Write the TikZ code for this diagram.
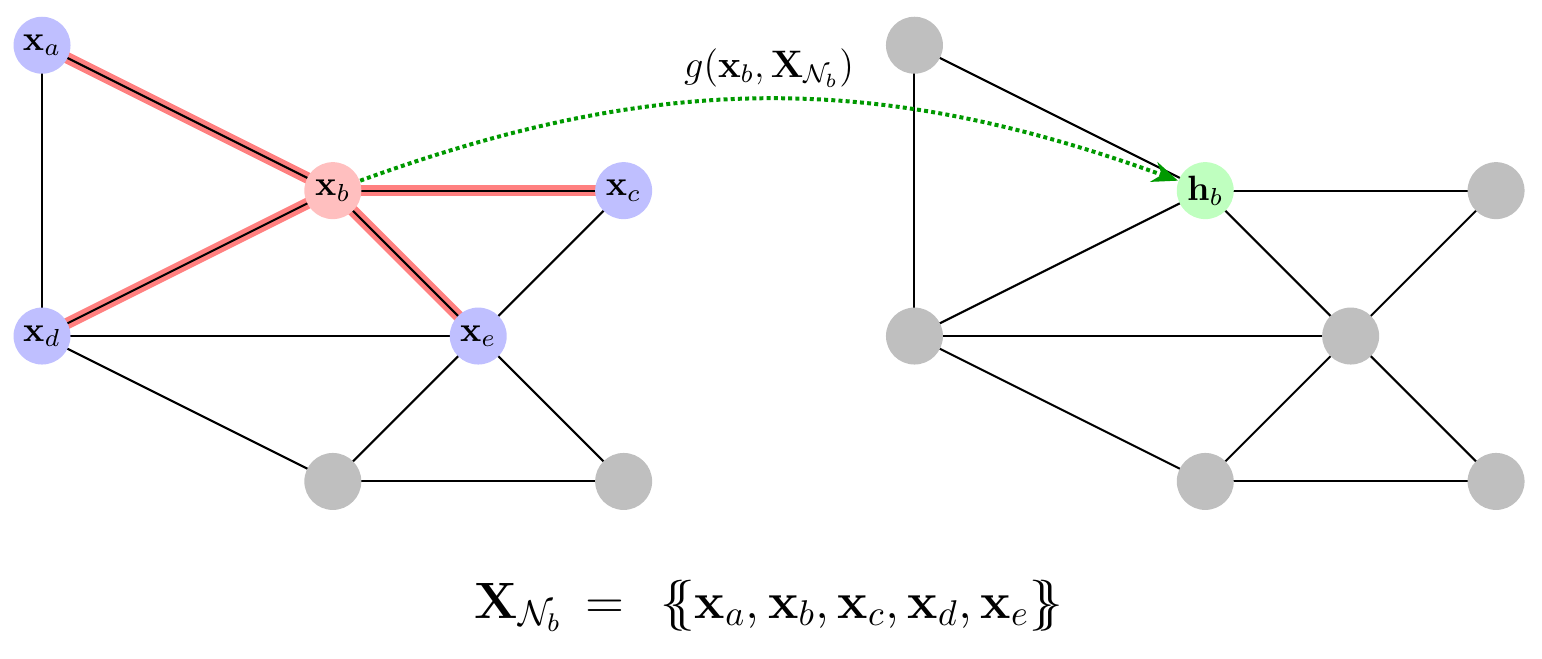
\documentclass[tikz,border=0pt]{standalone}
\usepackage{fix-cm}
\usepackage{amsmath,amssymb}
\usetikzlibrary{arrows.meta,backgrounds}
\tikzset{
    vertex/.style = { circle, minimum size=0.627cm, inner sep=0pt, font=\fontsize{11}{13}\selectfont },
      feat/.style = { vertex, fill=blue!25 },
      root/.style = { vertex, fill=red!25 },
    hidden/.style = { vertex, fill=green!25 },
     plain/.style = { vertex, fill=black!25 },
      link/.style = { line width=0.65pt },
       msg/.style = { line width=3.6pt, color=red!50 },
       agg/.style = { line width=1.25pt, dash pattern=on 1.25pt off 1pt, color=green!60!black,
                      -{Stealth[length=2.8mm,width=2.3mm]} },
}

\begin{document}
\begin{tikzpicture}[x=1.6cm, y=1.6cm]
  \useasboundingbox (-0.289,-2.221) rectangle (10.316,2.311);

  \node[feat]  (a) at (0,2)  {$\mathbf{x}_a$};
  \node[root]  (b) at (2,1)  {$\mathbf{x}_b$};
  \node[feat]  (c) at (4,1)  {$\mathbf{x}_c$};
  \node[feat]  (d) at (0,0)  {$\mathbf{x}_d$};
  \node[feat]  (e) at (3,0)  {$\mathbf{x}_e$};
  \node[plain] (f) at (2,-1) {};
  \node[plain] (g) at (4,-1) {};

  \foreach \n/\x/\y in {a/0/2,c/4/1,d/0/0,e/3/0,f/2/-1,g/4/-1}
    \node[plain] (r\n) at (\x+6,\y) {};
  \node[hidden] (rb) at (8,1) {$\mathbf{h}_b$};

  \begin{scope}[on background layer]
    \foreach \i/\j in {a/d,c/e,d/e,d/f,e/f,e/g,f/g}
      \draw [link] (\i.center) -- (\j.center);
    \foreach \j in {a,c,d,e} {
      \draw [msg]  (b.center) -- (\j.center);
      \draw [link] (b.center) -- (\j.center);
    }
    \foreach \i/\j in {a/d,a/b,b/c,b/d,b/e,c/e,d/e,d/f,e/f,e/g,f/g}
      \draw [link] (r\i.center) -- (r\j.center);
  \end{scope}

  \draw [agg] (b) to[bend left=20] (rb);
  \node[anchor=base, font=\large] (upd) at (5,1.78) {$g(\mathbf{x}_b, \mathbf{X}_{\mathcal{N}_b})$};

  \node[anchor=base, font=\fontsize{16}{19}\selectfont] (nbhd) at (5,-1.94)
    {$\mathbf{X}_{\mathcal{N}_b}\,=\;\,\{\!\!\{\mathbf{x}_a, \mathbf{x}_b, \mathbf{x}_c, \mathbf{x}_d, \mathbf{x}_e\}\!\!\}$};
\end{tikzpicture}
\end{document}
